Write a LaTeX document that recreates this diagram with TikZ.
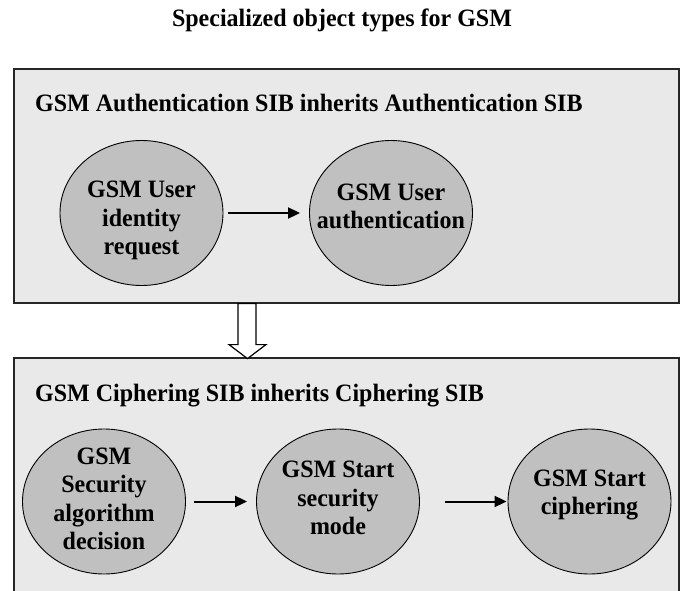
\documentclass[tikz,border=0pt]{standalone}
\usepackage{fontspec}
\setmainfont{Liberation Serif}[FakeStretch=0.96]
\usetikzlibrary{shapes.geometric,arrows.meta}
\definecolor{boxgray}{RGB}{233,233,233}
\definecolor{ellgray}{RGB}{192,192,192}
\tikzset{
  box/.style={draw=black!85, line width=1.6pt, fill=boxgray, anchor=north west, inner sep=0pt},
  obj/.style={ellipse, draw=black, line width=0.9pt, fill=ellgray, minimum width=163pt, minimum height=145pt, inner sep=0pt},
  lbl/.style={align=center, font=\fontsize{25}{28.5}\selectfont\bfseries, inner sep=0pt},
  hdr/.style={font=\fontsize{25}{28.5}\selectfont\bfseries, inner sep=0pt, anchor=base west},
  conn/.style={line width=2pt, -{Triangle[length=12pt,width=11pt]}},
  hollow/.style={draw=black, line width=1.2pt, fill=white}
}
\begin{document}
\begin{tikzpicture}[x=1pt,y=-1pt]
\useasboundingbox (0,0) rectangle (683,591);
\clip (0,0) rectangle (683,591);
\fill[white] (0,0) rectangle (683,591);
% title
\node[font=\fontsize{25}{28.5}\selectfont\bfseries, inner sep=0pt, anchor=base] (title) at (342,26.7) {Specialized object types for GSM};
% top box
\node[box, minimum width=665pt, minimum height=234pt] (top) at (13,68) {};
\node[hdr] (h1) at (35,112) {GSM Authentication SIB inherits Authentication SIB};
\node[obj] (a) at (141.5,213) {};
\node[lbl] (at) at (141.5,220.5) {GSM User\\identity\\request};
\node[obj] (b) at (391,213) {};
\node[lbl] (bt) at (391,206.5) {GSM User\\authentication};
\draw[conn, shorten <=5pt, shorten >=9pt] (a) -- (b);
% bottom box
\node[box, minimum width=665pt, minimum height=250pt] (bot) at (13,357) {};
\node[hdr] (h2) at (35,401) {GSM Ciphering SIB inherits Ciphering SIB};
\node[obj] (c) at (104,501.5) {};
\node[lbl] (ct) at (104,499) {GSM\\Security\\algorithm\\decision};
\node[obj] (d) at (338,501.5) {};
\node[lbl] (dt) at (338,498) {GSM Start\\security\\mode};
\node[obj] (e) at (589.5,501.5) {};
\node[lbl] (et) at (589.5,495) {GSM Start\\ciphering};
\draw[conn, shorten <=8pt, shorten >=9pt] (c) -- (d);
\draw[conn, shorten <=25pt, shorten >=1pt] (d) -- (e);
% hollow inheritance arrow
\draw[hollow] ([xshift=225pt]top.south west) -- ++(0,41) -- ++(-9,0) -- ++(18.5,14) -- ++(18.5,-14) -- ++(-10,0) -- ++(0,-41) -- cycle;
\end{tikzpicture}
\end{document}
